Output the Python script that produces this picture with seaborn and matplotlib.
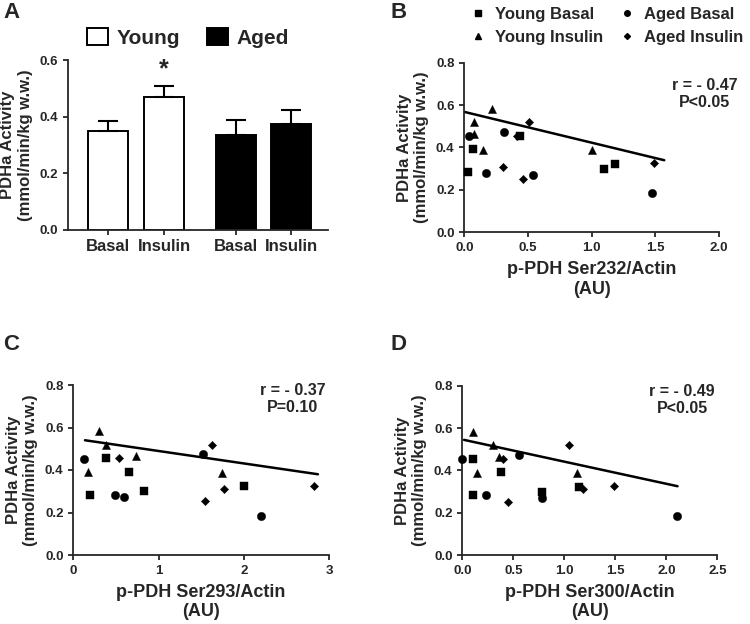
import numpy as np
import pandas as pd
import matplotlib
matplotlib.use("Agg")
import matplotlib.pyplot as plt
import seaborn as sns
from matplotlib.lines import Line2D
from matplotlib.patches import Patch

# ---- panel A: mean PDHa activity (+SEM)
bar_labels = ["Basal", "Insulin", "Basal", "Insulin"]
bar_groups = ["Young", "Young", "Aged", "Aged"]
bar_pos = [0, 1, 2.29, 3.27]
bar_means = [0.351, 0.468, 0.334, 0.373]
bar_sem = [0.034, 0.039, 0.055, 0.049]

# ---- PDHa activity per subject (same subjects in B, C, D)
pdha_young_basal = [0.284, 0.392, 0.455, 0.300, 0.323]
pdha_young_ins = [0.518, 0.464, 0.389, 0.582, 0.386]
pdha_aged_basal = [0.452, 0.282, 0.474, 0.271, 0.184]
pdha_aged_ins = [0.310, 0.252, 0.518, 0.326, 0.455]

# ---- p-PDH / actin per subject
ser232_young_basal = [0.03, 0.07, 0.44, 1.10, 1.18]
ser232_young_ins = [0.078, 0.073, 0.143, 0.216, 1.00]
ser232_aged_basal = [0.04, 0.17, 0.315, 0.54, 1.47]
ser232_aged_ins = [0.30, 0.46, 0.51, 1.49, 0.41]

ser293_young_basal = [0.20, 0.65, 0.38, 0.83, 2.00]
ser293_young_ins = [0.38, 0.74, 0.17, 0.30, 1.75]
ser293_aged_basal = [0.13, 0.49, 1.52, 0.60, 2.20]
ser293_aged_ins = [1.77, 1.55, 1.63, 2.82, 0.54]

ser300_young_basal = [0.10, 0.38, 0.10, 0.78, 1.14]
ser300_young_ins = [0.30, 0.36, 0.14, 0.10, 1.12]
ser300_aged_basal = [0.0, 0.23, 0.56, 0.78, 2.10]
ser300_aged_ins = [1.18, 0.45, 1.05, 1.49, 0.40]

# regression lines (end points)
fit232_x = [0.0, 1.57]
fit232_y = [0.568, 0.340]
fit293_x = [0.137, 2.87]
fit293_y = [0.540, 0.380]
fit300_x = [0.017, 2.11]
fit300_y = [0.544, 0.325]

stats232 = "r = - 0.47\nP<0.05"
stats293 = "r = - 0.37\nP=0.10"
stats300 = "r = - 0.49\nP<0.05"

group_names = ["Young Basal", "Young Insulin", "Aged Basal", "Aged Insulin"]
group_markers = {"Young Basal": "s", "Young Insulin": "^",
                 "Aged Basal": "o", "Aged Insulin": "D"}
group_sizes = {"Young Basal": 30, "Young Insulin": 34,
               "Aged Basal": 36, "Aged Insulin": 18}

sns.set_style("ticks")
plt.rcParams["font.family"] = ["Liberation Sans", "DejaVu Sans"]
plt.rcParams["font.weight"] = "bold"
plt.rcParams["axes.labelweight"] = "bold"
plt.rcParams["axes.linewidth"] = 1.3
plt.rcParams["xtick.major.width"] = 1.3
plt.rcParams["ytick.major.width"] = 1.3
plt.rcParams["xtick.major.size"] = 3.5
plt.rcParams["ytick.major.size"] = 3.5
plt.rcParams["xtick.labelsize"] = 9.5
plt.rcParams["ytick.labelsize"] = 9.5

W, H = 750, 624
fig = plt.figure(figsize=(W / 100, H / 100), dpi=100)


def box(x0, x1, ytop, ybot):
    return [x0 / W, 1 - ybot / H, (x1 - x0) / W, (ybot - ytop) / H]


axA = fig.add_axes(box(68, 328, 60, 230))
axB = fig.add_axes(box(464.3, 719, 62.7, 232.3))
axC = fig.add_axes(box(73.3, 329, 385, 555))
axD = fig.add_axes(box(462.3, 717.3, 385.7, 555))

ylab = "PDHa Activity\n(mmol/min/kg w.w.)"

# ---- A
df_bars = pd.DataFrame({"pos": bar_pos, "mean": bar_means, "group": bar_groups})
sns.barplot(data=df_bars, x="pos", y="mean", hue="group",
            palette={"Young": "white", "Aged": "black"}, native_scale=True,
            dodge=False, width=0.729, edgecolor="black", linewidth=1.4,
            errorbar=None, legend=False, ax=axA)
axA.errorbar(bar_pos, bar_means, yerr=[np.zeros(4), bar_sem], fmt="none",
             ecolor="black", elinewidth=1.5, capsize=7.5, capthick=1.5)
axA.text(1, 0.525, "*", ha="center", va="bottom", fontsize=18, fontweight="bold")
axA.set_xlim(-0.714, 3.93)
axA.set_ylim(0, 0.6)
axA.set_yticks([0, 0.2, 0.4, 0.6])
axA.set_xticks(bar_pos)
axA.set_xticklabels(bar_labels, fontsize=12)
axA.tick_params(axis="x", pad=3)
axA.set_xlabel("")
axA.set_ylabel(ylab, fontsize=12, labelpad=5)
sns.despine(ax=axA)

fig.legend([Patch(facecolor="white", edgecolor="black", linewidth=1.4),
            Patch(facecolor="black", edgecolor="black", linewidth=1.4)],
           ["Young", "Aged"], ncol=2, loc="center",
           bbox_to_anchor=(188 / W, 1 - 38 / H), frameon=False,
           prop={"size": 15, "weight": "bold"}, handlelength=1.0,
           handleheight=0.9, handletextpad=0.4, columnspacing=1.3)


# ---- B, C, D
def scatter_panel(ax, xs, fit_x, fit_y, stats, xmax, xticks, xlabel, stats_pos):
    rows = []
    for name, xv, yv in zip(group_names, xs,
                            [pdha_young_basal, pdha_young_ins,
                             pdha_aged_basal, pdha_aged_ins]):
        rows.append(pd.DataFrame({"x": xv, "y": yv, "group": name}))
    df = pd.concat(rows, ignore_index=True)
    for name in group_names:
        sub = df[df["group"] == name]
        sns.scatterplot(data=sub, x="x", y="y", marker=group_markers[name],
                        s=group_sizes[name], color="black", edgecolor="black",
                        linewidth=0.3, ax=ax, clip_on=False, zorder=3)
    sns.lineplot(x=fit_x, y=fit_y, color="black", linewidth=1.8, ax=ax)
    ax.set_xlim(0, xmax)
    ax.set_ylim(0, 0.8)
    ax.set_xticks(xticks)
    ax.set_yticks([0, 0.2, 0.4, 0.6, 0.8])
    ax.set_xlabel(xlabel, fontsize=13, linespacing=1.2, labelpad=5)
    ax.set_ylabel(ylab, fontsize=12, labelpad=5)
    ax.text(stats_pos[0], stats_pos[1], stats, transform=ax.transAxes,
            ha="center", va="center", fontsize=11.5, fontweight="bold",
            linespacing=1.15)
    sns.despine(ax=ax)


scatter_panel(axB, [ser232_young_basal, ser232_young_ins, ser232_aged_basal,
                    ser232_aged_ins],
              fit232_x, fit232_y, stats232, 2.0, [0, 0.5, 1.0, 1.5, 2.0],
              "p-PDH Ser232/Actin\n(AU)", (0.945, 0.815))
axB.set_xticklabels(["0.0", "0.5", "1.0", "1.5", "2.0"])

scatter_panel(axC, [ser293_young_basal, ser293_young_ins, ser293_aged_basal,
                    ser293_aged_ins],
              fit293_x, fit293_y, stats293, 3, [0, 1, 2, 3],
              "p-PDH Ser293/Actin\n(AU)", (0.859, 0.92))

scatter_panel(axD, [ser300_young_basal, ser300_young_ins, ser300_aged_basal,
                    ser300_aged_ins],
              fit300_x, fit300_y, stats300, 2.5, [0, 0.5, 1.0, 1.5, 2.0, 2.5],
              "p-PDH Ser300/Actin\n(AU)", (0.862, 0.915))
axD.set_xticklabels(["0.0", "0.5", "1.0", "1.5", "2.0", "2.5"])

for ax in [axA, axB, axC, axD]:
    for lab in ax.get_xticklabels() + ax.get_yticklabels():
        lab.set_fontweight("bold")

# legend for scatter panels
handles = [Line2D([], [], linestyle="none", marker=group_markers[n],
                  color="black", markersize=4 if n != "Aged Insulin" else 3)
           for n in group_names]
fig.legend(handles, group_names, ncol=2, loc="upper left",
           bbox_to_anchor=(455 / W, 1 + 8 / H), frameon=False,
           prop={"size": 12, "weight": "bold"}, handlelength=1.0,
           handletextpad=0.5, columnspacing=0.95, labelspacing=0.45)

# panel letters
for letter, x, y in [("A", 3, 2), ("B", 391, 2), ("C", 3, 334), ("D", 391, 334)]:
    fig.text(x / W, 1 - y / H, letter, fontsize=16, fontweight="bold",
             ha="left", va="top")

fig.savefig("out.png", dpi=100)
